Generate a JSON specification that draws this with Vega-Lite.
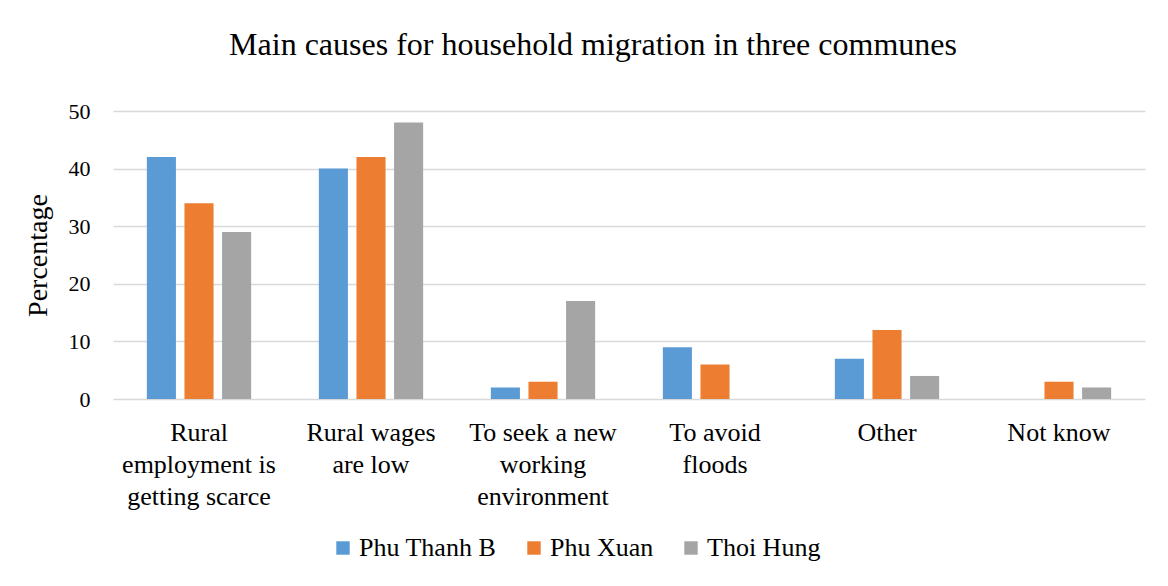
{
  "$schema": "https://vega.github.io/schema/vega-lite/v6.json",
  "autosize": "none",
  "width": 1032,
  "height": 288,
  "padding": {"left": 113, "top": 111, "right": 23, "bottom": 187},
  "background": "white",
  "title": {
    "text": "Main causes for household migration in three communes",
    "font": "Liberation Serif",
    "fontSize": 32,
    "fontWeight": "normal",
    "color": "#000000",
    "anchor": "middle",
    "dx": -36,
    "offset": 38
  },
  "data": {
    "values": [
      {"cause": "Rural employment is getting scarce", "commune": "Phu Thanh B", "pct": 42},
      {"cause": "Rural employment is getting scarce", "commune": "Phu Xuan", "pct": 34},
      {"cause": "Rural employment is getting scarce", "commune": "Thoi Hung", "pct": 29},
      {"cause": "Rural wages are low", "commune": "Phu Thanh B", "pct": 40},
      {"cause": "Rural wages are low", "commune": "Phu Xuan", "pct": 42},
      {"cause": "Rural wages are low", "commune": "Thoi Hung", "pct": 48},
      {"cause": "To seek a new working environment", "commune": "Phu Thanh B", "pct": 2},
      {"cause": "To seek a new working environment", "commune": "Phu Xuan", "pct": 3},
      {"cause": "To seek a new working environment", "commune": "Thoi Hung", "pct": 17},
      {"cause": "To avoid floods", "commune": "Phu Thanh B", "pct": 9},
      {"cause": "To avoid floods", "commune": "Phu Xuan", "pct": 6},
      {"cause": "To avoid floods", "commune": "Thoi Hung", "pct": 0},
      {"cause": "Other", "commune": "Phu Thanh B", "pct": 7},
      {"cause": "Other", "commune": "Phu Xuan", "pct": 12},
      {"cause": "Other", "commune": "Thoi Hung", "pct": 4},
      {"cause": "Not know", "commune": "Phu Thanh B", "pct": 0},
      {"cause": "Not know", "commune": "Phu Xuan", "pct": 3},
      {"cause": "Not know", "commune": "Thoi Hung", "pct": 2}
    ]
  },
  "mark": {"type": "bar"},
  "encoding": {
    "x": {
      "field": "cause",
      "type": "nominal",
      "sort": null,
      "scale": {"paddingInner": 0, "paddingOuter": 0},
      "axis": {
        "title": null,
        "labelAngle": 0,
        "labelFont": "Liberation Serif",
        "labelFontSize": 26,
        "labelColor": "#000000",
        "labelPadding": 20,
        "labelLineHeight": 32,
        "labelLimit": 0,
        "ticks": false,
        "domain": false,
        "grid": false,
        "labelExpr": "{'Rural employment is getting scarce': ['Rural', 'employment is', 'getting scarce'], 'Rural wages are low': ['Rural wages', 'are low'], 'To seek a new working environment': ['To seek a new', 'working', 'environment'], 'To avoid floods': ['To avoid', 'floods']}[datum.value] || datum.value"
      }
    },
    "xOffset": {
      "field": "commune",
      "type": "nominal",
      "scale": {"paddingInner": 0.227, "paddingOuter": 0.9}
    },
    "y": {
      "field": "pct",
      "type": "quantitative",
      "scale": {"domain": [0, 50], "nice": false},
      "axis": {
        "title": "Percentage",
        "titleFont": "Liberation Serif",
        "titleFontSize": 28,
        "titleFontWeight": "normal",
        "titleColor": "#000000",
        "titlePadding": 16,
        "values": [0, 10, 20, 30, 40, 50],
        "labelFont": "Liberation Serif",
        "labelFontSize": 22,
        "labelColor": "#000000",
        "labelPadding": 23,
        "ticks": false,
        "domain": false,
        "grid": true,
        "gridColor": "#D9D9D9",
        "gridWidth": 1.5
      }
    },
    "color": {
      "field": "commune",
      "type": "nominal",
      "scale": {
        "domain": ["Phu Thanh B", "Phu Xuan", "Thoi Hung"],
        "range": ["#5B9BD5", "#ED7D31", "#A5A5A5"]
      },
      "legend": {
        "title": null,
        "orient": "none",
        "direction": "horizontal",
        "legendX": 217,
        "legendY": 424,
        "symbolType": "square",
        "symbolSize": 180,
        "symbolStrokeWidth": 0,
        "labelFont": "Liberation Serif",
        "labelFontSize": 26,
        "labelColor": "#000000",
        "labelOffset": 3,
        "columnPadding": 24
      }
    }
  },
  "config": {
    "view": {"stroke": null}
  }
}
